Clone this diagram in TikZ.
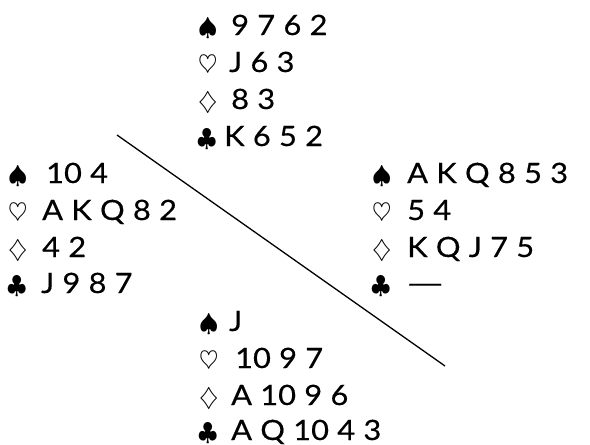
\documentclass[tikz,border=0pt]{standalone}
\usepackage{fontspec}
\setmainfont[FakeStretch=1.1,WordSpace=1.05,FakeBold=0.4]{Lato}
\begin{document}
\begin{tikzpicture}[x=1pt,y=-1pt,
  txt/.style={anchor=base west,inner sep=0pt,font=\fontsize{28}{34}\selectfont},
  suit/.style={anchor=base west,inner sep=0pt,font=\fontsize{35}{38}\selectfont},
  divider/.style={line width=1.3pt}]
\useasboundingbox (0,0) rectangle (590,445);
% North
\node[suit] (ns) at (198,35) {$\spadesuit$};
\node[txt] (nst) at (231,35) {9 7 6 2};
\node[suit] (nh) at (198,72) {$\heartsuit$};
\node[txt] (nht) at (229,72) {J 6 3};
\node[suit] (nd) at (198,109) {$\diamondsuit$};
\node[txt] (ndt) at (231,109) {8 3};
\node[suit] (nc) at (197,146) {$\clubsuit$};
\node[txt] (nct) at (224,146) {K 6 5 2};
% West
\node[suit] (ws) at (8,183) {$\spadesuit$};
\node[txt] (wst) at (46,183) {10 4};
\node[suit] (wh) at (8,220) {$\heartsuit$};
\node[txt] (wht) at (42,220) {A K Q 8 2};
\node[suit] (wd) at (8,257) {$\diamondsuit$};
\node[txt] (wdt) at (42,257) {4 2};
\node[suit] (wc) at (7,293) {$\clubsuit$};
\node[txt] (wct) at (41,293) {J 9 8 7};
% East
\node[suit] (es) at (372,183) {$\spadesuit$};
\node[txt] (est) at (407,183) {A K Q 8 5 3};
\node[suit] (eh) at (372,220) {$\heartsuit$};
\node[txt] (eht) at (407,220) {5 4};
\node[suit] (ed) at (372,257) {$\diamondsuit$};
\node[txt] (edt) at (407,257) {K Q J 7 5};
\node[suit] (ec) at (371,293) {$\clubsuit$};
\node[txt] (ect) at (406,293) {\scalebox{1.55}[1]{---}};
% South
\node[suit] (ss) at (199,331) {$\spadesuit$};
\node[txt] (sst) at (229,331) {J};
\node[suit] (sh) at (199,368) {$\heartsuit$};
\node[txt] (sht) at (235,368) {10 9 7};
\node[suit] (sd) at (199,405) {$\diamondsuit$};
\node[txt] (sdt) at (231,405) {A 10 9 6};
\node[suit] (sc) at (198,440) {$\clubsuit$};
\node[txt] (sct) at (231,440) {A Q 10 4 3};
% divider
\coordinate (la) at (117,135);
\coordinate (lb) at (445,366);
\draw[divider] (la) -- (lb);
\end{tikzpicture}
\end{document}
